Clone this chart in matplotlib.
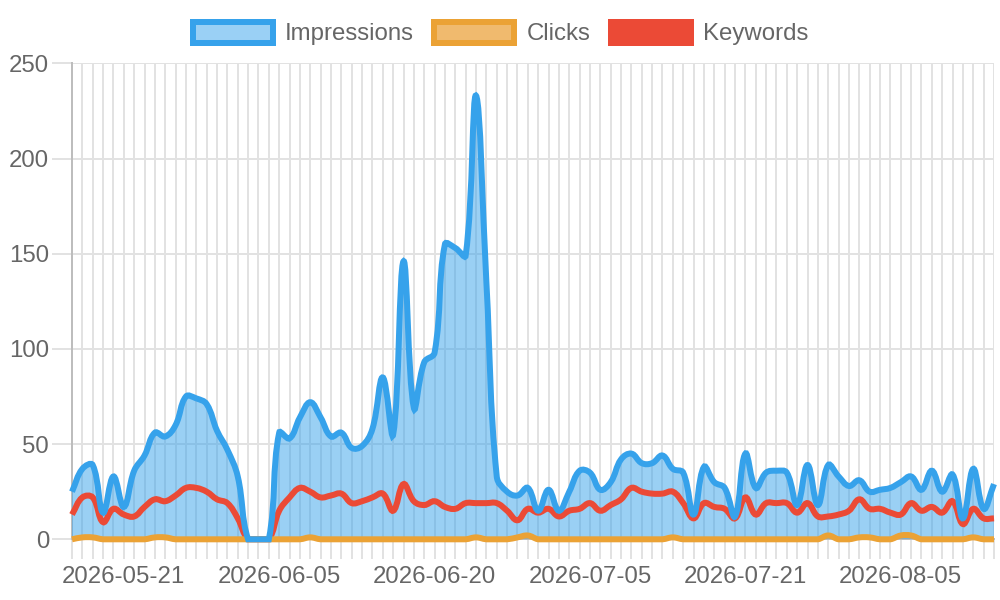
import matplotlib

matplotlib.use("Agg")
import matplotlib.pyplot as plt
import numpy as np
import pandas as pd
from matplotlib.patches import Patch, PathPatch
from matplotlib.path import Path

plt.rcParams["font.family"] = ["Liberation Sans", "DejaVu Sans"]

# daily categories, one day (07-13) missing in the source data
DATES = [d.strftime("%Y-%m-%d") for d in pd.date_range("2026-05-16", "2026-08-14")
         if d.strftime("%Y-%m-%d") != "2026-07-13"]

IMPRESSIONS = [
    25, 37, 39, 14, 33, 17, 36, 44, 56, 54,
    60, 75, 74, 71, 57, 47, 33, 0, 0, 0,
    56, 53, 64, 72, 64, 54, 56, 48, 49, 58,
    85, 55, 146, 69, 93, 98, 155, 153, 149, 233,
    135, 33, 25, 23, 27, 15, 26, 15, 25, 36,
    35, 26, 30, 42, 45, 40, 40, 44, 37, 35,
    13, 38, 30, 27, 12, 45, 27, 35, 36, 35,
    18, 39, 18, 39, 33, 28, 31, 25, 26, 27,
    30, 33, 26, 36, 25, 34, 11, 37, 16, 29,
]
CLICKS = [
    0, 1, 1, 0, 0, 0, 0, 0, 1, 1,
    0, 0, 0, 0, 0, 0, 0, 0, 0, 0,
    0, 0, 0, 1, 0, 0, 0, 0, 0, 0,
    0, 0, 0, 0, 0, 0, 0, 0, 0, 1,
    0, 0, 0, 1, 2, 0, 0, 0, 0, 0,
    0, 0, 0, 0, 0, 0, 0, 0, 1, 0,
    0, 0, 0, 0, 0, 0, 0, 0, 0, 0,
    0, 0, 0, 2, 0, 0, 1, 1, 0, 0,
    2, 2, 0, 0, 0, 0, 0, 1, 0, 0,
]
KEYWORDS = [
    13, 22, 22, 9, 16, 13, 12, 17, 21, 20,
    23, 27, 27, 25, 21, 19, 11, 0, 0, 0,
    15, 22, 27, 25, 22, 23, 24, 19, 20, 22,
    24, 15, 29, 20, 18, 20, 17, 16, 19, 19,
    19, 19, 15, 10, 16, 14, 16, 12, 15, 16,
    19, 15, 18, 21, 27, 25, 24, 24, 25, 19,
    11, 19, 17, 16, 11, 22, 13, 19, 19, 19,
    14, 19, 12, 12, 13, 15, 21, 16, 16, 14,
    13, 19, 15, 17, 14, 20, 8, 16, 11, 11,
]
Y_TICKS = [0, 50, 100, 150, 200, 250]
LABEL_EVERY = 15
LABEL_START = 5

BLUE = "#36A2EB"
ORANGE = "#EBA235"
ORANGE_FILL = "#F0BA6E"
RED = "#EB4A36"
GRID = "#E2E2E2"
ZERO = "#BDBDBD"
TEXT = "#666666"
PX = 0.72  # points per pixel at dpi 100


def spline_verts(ax, xs, ys, tension=0.4):
    """Chart.js style bezier through the points, capped to the plot area."""
    pts = ax.transData.transform(np.column_stack([xs, ys]))
    (x0, y0), (x1, y1) = ax.transAxes.transform([[0, 0], [1, 1]])
    n = len(pts)
    prev_cp, next_cp = [], []
    for i in range(n):
        prv, cur, nxt = pts[max(i - 1, 0)], pts[i], pts[min(i + 1, n - 1)]
        d01 = np.hypot(*(cur - prv))
        d12 = np.hypot(*(nxt - cur))
        tot = d01 + d12
        s01 = d01 / tot if tot else 0.0
        s12 = d12 / tot if tot else 0.0
        a = cur - tension * s01 * (nxt - prv)
        b = cur + tension * s12 * (nxt - prv)
        for cp in (a, b):
            cp[0] = min(max(cp[0], x0), x1)
            cp[1] = min(max(cp[1], y0), y1)
        prev_cp.append(a)
        next_cp.append(b)
    verts = [pts[0]]
    codes = [Path.MOVETO]
    for i in range(1, n):
        verts += [next_cp[i - 1], prev_cp[i], pts[i]]
        codes += [Path.CURVE4] * 3
    verts = ax.transData.inverted().transform(np.array(verts))
    return verts, codes


fig = plt.figure(figsize=(10, 6), dpi=100)
ax = fig.add_axes([0.072, 1 - 539.3 / 600, 0.922, (539.3 - 63.3) / 600])
x = np.arange(len(DATES))
ax.set_xlim(0, len(DATES) - 1)
ax.set_ylim(0, 250)

# grid
for s in ax.spines.values():
    s.set_visible(False)
ax.set_axisbelow(True)
ax.grid(True, color=GRID, lw=2 * PX)
ax.axhline(0, color=ZERO, lw=2 * PX, zorder=0.6, clip_on=False)
ax.axvline(0, color=ZERO, lw=2 * PX, zorder=0.6, clip_on=False)

ax.set_xticks(x)
ax.set_xticklabels([d if (i - LABEL_START) % LABEL_EVERY == 0 and i >= LABEL_START else ""
                    for i, d in enumerate(DATES)])
ax.set_yticks(Y_TICKS)
ax.set_yticklabels([str(v) for v in Y_TICKS])
ax.tick_params(axis="x", length=20 * PX, width=2 * PX, color=GRID, pad=5,
               labelsize=24 * PX, labelcolor=TEXT)
ax.tick_params(axis="y", length=20 * PX, width=2 * PX, color=GRID, pad=2,
               labelsize=24 * PX, labelcolor=TEXT)

# impressions fill (drawn beneath all lines, like chart.js filler)
verts, codes = spline_verts(ax, x, IMPRESSIONS)
fill_verts = np.vstack([verts, [[x[-1], 0], [x[0], 0], [x[0], 0]]])
fill_codes = codes + [Path.LINETO, Path.LINETO, Path.CLOSEPOLY]
ax.add_patch(PathPatch(Path(fill_verts, fill_codes), facecolor=BLUE, alpha=0.5,
                       edgecolor="none", zorder=1))

for series, color, z in ((KEYWORDS, RED, 2), (CLICKS, ORANGE, 3), (IMPRESSIONS, BLUE, 4)):
    v, c = spline_verts(ax, x, series)
    ax.add_patch(PathPatch(Path(v, c), facecolor="none", edgecolor=color,
                           lw=6 * PX, zorder=z, clip_on=False))

handles = [
    Patch(facecolor="#9AD0F5", edgecolor=BLUE, lw=6 * PX, label="Impressions"),
    Patch(facecolor=ORANGE_FILL, edgecolor=ORANGE, lw=6 * PX, label="Clicks"),
    Patch(facecolor=RED, edgecolor=RED, lw=6 * PX, label="Keywords"),
]
leg = fig.legend(handles=handles, loc="center", bbox_to_anchor=(0.5005, 1 - 33.5 / 600),
                 ncol=3, frameon=False, fontsize=24 * PX, handlelength=80 / 24,
                 handleheight=1.0, handletextpad=0.5, columnspacing=0.85,
                 borderpad=0.0)
for t in leg.get_texts():
    t.set_color(TEXT)

fig.savefig("out.png", dpi=100)
